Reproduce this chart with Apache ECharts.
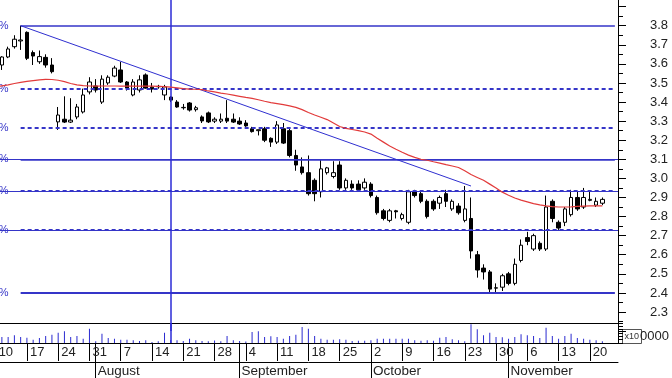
<!DOCTYPE html>
<html><head><meta charset="utf-8">
<script src="https://cdn.jsdelivr.net/npm/echarts@6/dist/echarts.min.js"></script>
<style>html,body{margin:0;padding:0;background:#fff}#c{width:672px;height:378px}</style>
</head><body><div id="c"></div>
<script>
// trading days per month (year 2006)
const julDays=[10,11,12,13,14,17,18,19,20,21,24,25,26,27,28,31];
const augDays=[1,2,3,4,7,8,9,10,11,14,15,16,17,18,21,22,23,24,25,28,29,30,31];
const sepDays=[1,4,5,6,7,8,11,12,13,14,15,18,19,20,21,22,25,26,27,28,29];
const octDays=[2,3,4,5,6,9,10,11,12,13,16,17,18,19,20,23,24,25,26,27,30,31];
const novDays=[1,2,3,6,7,8,9,10,13,14,15,16,17,20,21,22,23,24];
const monthNames=['July','August','September','October','November'];

// [open, close, low, high]
const ohlc=[
[3.55,3.59,3.54,3.61],[3.594,3.636,3.568,3.64],[3.636,3.678,3.63,3.69],[3.69,3.729,3.68,3.75],[3.72,3.725,3.673,3.80],
[3.765,3.629,3.62,3.77],[3.659,3.641,3.594,3.67],[3.611,3.638,3.60,3.67],[3.634,3.594,3.58,3.65],[3.594,3.559,3.55,3.63],
[3.296,3.332,3.254,3.374],[3.31,3.295,3.29,3.43],[3.295,3.305,3.29,3.42],[3.322,3.374,3.31,3.39],[3.348,3.437,3.34,3.47],
[3.453,3.505,3.44,3.53],[3.484,3.463,3.45,3.52],[3.40,3.52,3.39,3.54],[3.50,3.53,3.49,3.54],[3.536,3.578,3.53,3.59],
[3.568,3.505,3.50,3.61],[3.505,3.473,3.46,3.51],[3.437,3.505,3.43,3.52],[3.463,3.516,3.45,3.54],[3.542,3.473,3.47,3.55],
[3.478,3.468,3.45,3.50],[3.48,3.482,3.47,3.49],[3.437,3.479,3.41,3.49],[3.426,3.41,3.40,3.43],[3.40,3.374,3.37,3.41],
[3.37,3.372,3.36,3.39],[3.395,3.358,3.35,3.40],[3.36,3.37,3.35,3.38],[3.322,3.301,3.29,3.33],[3.343,3.296,3.29,3.35],
[3.30,3.31,3.29,3.32],[3.30,3.31,3.29,3.34],[3.315,3.30,3.29,3.41],[3.31,3.295,3.29,3.34],[3.30,3.285,3.28,3.32],
[3.29,3.275,3.27,3.305],[3.26,3.245,3.24,3.27],[3.25,3.255,3.225,3.255],[3.26,3.20,3.19,3.27],[3.21,3.19,3.165,3.215],
[3.19,3.28,3.18,3.30],[3.26,3.185,3.18,3.29],[3.25,3.12,3.11,3.26],[3.12,3.07,3.04,3.15],[3.06,3.03,3.02,3.11],
[3.03,2.92,2.91,3.12],[2.99,2.92,2.88,3.00],[2.93,3.05,2.90,3.10],[3.03,3.055,3.02,3.06],[3.01,3.03,3.00,3.09],
[3.07,2.95,2.94,3.09],[2.95,2.99,2.94,3.00],[2.97,2.95,2.94,2.99],[2.97,2.94,2.93,2.99],[2.95,2.98,2.94,3.00],
[2.97,2.91,2.90,2.98],[2.90,2.82,2.81,2.91],[2.83,2.79,2.78,2.84],[2.78,2.83,2.77,2.84],[2.83,2.825,2.79,2.835],
[2.79,2.81,2.78,2.82],[2.77,2.93,2.76,2.94],[2.93,2.91,2.90,2.94],[2.92,2.88,2.87,2.93],[2.88,2.80,2.79,2.89],
[2.88,2.84,2.83,2.89],[2.87,2.90,2.84,2.91],[2.92,2.88,2.85,2.94],[2.84,2.88,2.83,2.89],[2.855,2.82,2.81,2.87],
[2.78,2.84,2.77,2.96],[2.79,2.62,2.58,2.90],[2.60,2.52,2.48,2.62],[2.53,2.51,2.47,2.55],[2.51,2.42,2.40,2.52],
[2.425,2.427,2.40,2.45],[2.43,2.49,2.41,2.50],[2.50,2.45,2.44,2.51],[2.45,2.55,2.44,2.58],[2.57,2.65,2.56,2.68],
[2.69,2.67,2.65,2.72],[2.63,2.70,2.62,2.71],[2.66,2.63,2.62,2.67],[2.63,2.85,2.62,2.91],[2.88,2.79,2.77,2.89],
[2.77,2.74,2.73,2.78],[2.77,2.84,2.75,2.85],[2.81,2.90,2.80,2.94],[2.90,2.84,2.83,2.93],[2.85,2.90,2.84,2.95],
[2.885,2.89,2.88,2.93],[2.86,2.88,2.85,2.90],[2.87,2.89,2.86,2.90]
];

const movingAvg=[
3.48,3.485,3.49,3.497,3.503,3.508,3.512,3.516,3.519,3.518,
3.514,3.507,3.497,3.49,3.486,3.484,3.483,3.484,3.484,3.484,
3.483,3.483,3.483,3.483,3.483,3.483,3.482,3.481,3.478,3.474,
3.47,3.468,3.467,3.465,3.458,3.453,3.447,3.442,3.436,3.43,
3.424,3.419,3.412,3.404,3.397,3.392,3.386,3.38,3.372,3.36,
3.345,3.332,3.32,3.308,3.29,3.272,3.262,3.256,3.25,3.243,
3.232,3.21,3.19,3.17,3.153,3.137,3.122,3.11,3.10,3.095,
3.087,3.08,3.072,3.065,3.057,3.04,3.02,3.005,2.99,2.97,
2.95,2.928,2.912,2.897,2.886,2.877,2.868,2.861,2.856,2.852,
2.85,2.85,2.851,2.853,2.855,2.856,2.856,2.856
];

// volume, thousands
const volume=[
9,9,9,11.5,9,8,5,7.5,10.5,12.5,
15.5,17.5,9,10.5,6.5,21.5,2.5,14,7.5,6.5,
5,5,4,3,4,1.5,2.5,15.5,4.5,4,
3,6.5,4,3,2.7,3.7,2.5,10.5,4,3,
2.2,16.5,17.5,9,10,9,6.5,10.5,12.5,24,
21.5,10.5,6.5,5,5,5.5,5,3,3.5,3.5,
4,6.5,6.5,6.5,6.5,6.5,6.5,4,3.3,4,
3.5,8,9,5.5,4,2.5,28,20.5,11.5,15.5,
9,8.5,6.5,9,13,11.5,10.5,7.5,23,10.5,
6.5,10.5,14,7.5,6.5,5,4,2.5
];

const fibPrices=[3.80,3.47,3.265,3.10,2.935,2.73,2.40];
const fibLabels=['0.0%','23.6%','38.2%','50.0%','61.8%','76.4%','100.0%'];
const fibDashed=[false,true,true,false,true,true,false];
const fibFullWidth=[false,false,false,true,true,true,false];
const trendStart={index:4, price:3.80};
const trendEnd={index:76, price:2.96};
const cursorIndex=28;
const fibStartIndex=4;

// build categories
const categories=[], dayOfMonth=[], isMonday=[], monthStart=[], monthOf=[];
[julDays,augDays,sepDays,octDays,novDays].forEach((days,m)=>{
  days.forEach((d,k)=>{
    const dt=new Date(2006,6+m,d);
    categories.push('2006-'+(7+m)+'-'+d);
    dayOfMonth.push(String(d));
    isMonday.push(dt.getDay()===1);
    monthStart.push(k===0 && m>0);
    monthOf.push(monthNames[m]);
  });
});
const lastCat=categories[categories.length-1];
const FONT='"Liberation Sans", Arial, sans-serif';
const BLUE='#3535c8';

const candleData=ohlc.map(r=>[r[0],r[1],r[2],r[3]]);

const mlData=[];
fibPrices.forEach((p,k)=>{
  if(fibFullWidth[k]){
    mlData.push({yAxis:p, lineStyle:{color:BLUE,type:'solid',width:1.2}, label:{show:false}});
  }
  mlData.push([
    {coord:[categories[fibStartIndex],p],
     lineStyle:{color:BLUE,type:fibDashed[k]?[4,3]:'solid',width:(k===6)?2.2:(fibDashed[k]?2:1.5)},
     label:{show:true,position:'start',formatter:fibLabels[k],distance:12,color:BLUE,fontSize:11,fontFamily:FONT}},
    {coord:[lastCat,p]}
  ]);
});
mlData.push([
  {coord:[categories[trendStart.index],trendStart.price],lineStyle:{color:'#2f2fd0',type:'solid',width:1},label:{show:false}},
  {coord:[categories[trendEnd.index],trendEnd.price]}
]);
mlData.push({xAxis:categories[cursorIndex],lineStyle:{color:'#2b2bd6',type:'solid',width:1.5},label:{show:false}});

const chart=echarts.init(document.getElementById('c'),null,{renderer:'canvas'});
chart.setOption({
  animation:false,
  backgroundColor:'#fff',
  textStyle:{fontFamily:FONT},
  grid:[
    {left:-7.5,right:54,top:-12.5,height:343.6,outerBoundsMode:'none'},
    {left:-7.5,right:54,top:323,height:20,outerBoundsMode:'none'}
  ],
  xAxis:[
    {gridIndex:0,type:'category',data:categories,show:false,boundaryGap:true},
    {gridIndex:1,type:'category',data:categories,position:'bottom',boundaryGap:true,
     axisLine:{show:true,lineStyle:{color:'#000',width:1}},
     axisTick:{show:true,alignWithLabel:true,interval:(i)=>isMonday[i],length:18,lineStyle:{color:'#000'}},
     axisLabel:{show:true,interval:(i)=>isMonday[i],formatter:(v,i)=>dayOfMonth[i],align:'left',margin:3,padding:[0,0,0,3],fontSize:13,color:'#222',fontFamily:FONT,hideOverlap:false}},
    {gridIndex:1,type:'category',data:categories,position:'bottom',offset:0,boundaryGap:true,
     axisLine:{show:false},
     axisTick:{show:true,alignWithLabel:true,interval:(i)=>monthStart[i],length:35,lineStyle:{color:'#000'}},
     axisLabel:{show:true,interval:(i)=>monthStart[i],formatter:(v,i)=>monthOf[i],align:'left',margin:21,padding:[0,0,0,2],fontSize:13.5,color:'#222',fontFamily:FONT,hideOverlap:false}},
    {gridIndex:1,type:'category',data:categories,position:'bottom',offset:19,boundaryGap:true,
     axisLine:{show:true,lineStyle:{color:'#000',width:1}},axisTick:{show:false},axisLabel:{show:false}},
    {gridIndex:1,type:'category',data:categories,position:'top',boundaryGap:true,
     axisLine:{show:true,lineStyle:{color:'#000',width:1}},axisTick:{show:false},axisLabel:{show:false}}
  ],
  yAxis:[
    {gridIndex:0,type:'value',position:'right',min:2.2,max:4.0,interval:0.1,
     axisLine:{show:true,lineStyle:{color:'#000'}},
     axisTick:{show:true,length:8,lineStyle:{color:'#000'}},
     minorTick:{show:true,splitNumber:2,length:5,lineStyle:{color:'#000'}},
     splitLine:{show:false},minorSplitLine:{show:false},
     axisLabel:{margin:32,fontSize:13,color:'#222',fontFamily:FONT,
       formatter:(v)=>(v>3.85||v<2.25)?'':v.toFixed(1)}},
    {gridIndex:1,type:'value',position:'right',min:0,max:30,interval:5,
     axisLine:{show:true,lineStyle:{color:'#000'}},
     axisTick:{show:true,length:5,lineStyle:{color:'#000'}},
     splitLine:{show:false},
     axisLabel:{margin:22,fontSize:13,color:'#222',fontFamily:FONT,
       formatter:(v)=>v===10?'0000':''}}
  ],
  series:[
    {type:'candlestick',name:'Price',xAxisIndex:0,yAxisIndex:0,data:candleData,barWidth:4,
     itemStyle:{color:'#ffffff',color0:'#000000',borderColor:'#000000',borderColor0:'#000000',borderWidth:1},
     markLine:{silent:true,symbol:['none','none'],animation:false,precision:3,data:mlData}},
    {type:'line',name:'MA',xAxisIndex:0,yAxisIndex:0,data:movingAvg,symbol:'none',smooth:false,
     lineStyle:{color:'#e23b3b',width:1.2},z:5},
    {type:'bar',name:'Volume',xAxisIndex:1,yAxisIndex:1,data:volume,barWidth:1,
     itemStyle:{color:'#2a2ad0'},
     markLine:{silent:true,symbol:['none','none'],animation:false,
       data:[{xAxis:categories[cursorIndex],lineStyle:{color:'#2b2bd6',type:'solid',width:1.5},label:{show:false}}]}}
  ],
  graphic:[
    {type:'group',left:622,top:329,z:100,children:[
      {type:'rect',shape:{x:0,y:0,width:19,height:14},style:{fill:'#fff',stroke:'#555',lineWidth:1}},
      {type:'text',x:2,y:3,style:{text:'x10',font:'9px "Liberation Sans", Arial',fill:'#333'}}
    ]}
  ]
});
</script></body></html>
